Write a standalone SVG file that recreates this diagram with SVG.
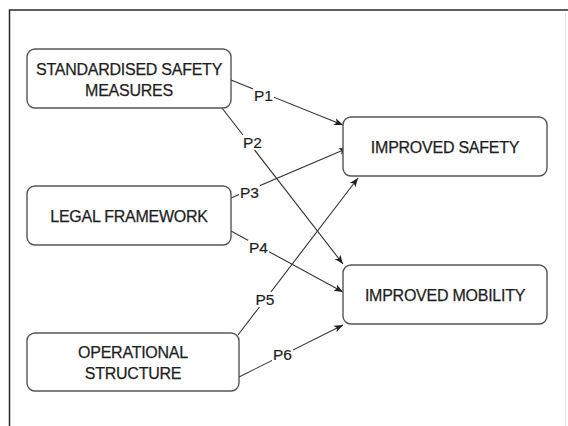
<svg xmlns="http://www.w3.org/2000/svg" width="568" height="426" viewBox="0 0 568 426">
  <style>
    .frame { stroke: #2a2a2a; stroke-width: 1.5; fill: none; }
    .node rect { fill: #ffffff; stroke: #555555; stroke-width: 1.4; }
    .node text { font-family: "Liberation Sans", Arial, sans-serif; font-size: 16px; letter-spacing: -0.25px; fill: #1e1e1e; stroke: #1e1e1e; stroke-width: 0.25; text-anchor: middle; }
    .edge { stroke: #333333; stroke-width: 1.1; fill: none; marker-end: url(#arrow); }
    .lbl-bg { fill: #ffffff; }
    .lbl { font-family: "Liberation Sans", Arial, sans-serif; font-size: 15.5px; fill: #1e1e1e; stroke: #1e1e1e; stroke-width: 0.2; text-anchor: middle; }
  </style>
  <defs>
    <marker id="arrow" viewBox="0 0 10 10" refX="10" refY="5" markerWidth="9" markerHeight="9" markerUnits="userSpaceOnUse" orient="auto">
      <path d="M0,1 L10,5 L0,9 L2.5,5 Z" fill="#222222"/>
    </marker>
  </defs>

  <rect width="568" height="426" fill="#ffffff"/>

  <!-- page frame -->
  <path class="frame" d="M9.5,426 V10 H568"/>
  <line x1="565.5" y1="13" x2="565.5" y2="426" stroke="#e4e4e4" stroke-width="1"/>

  <!-- connectors -->
  <g id="connectors">
    <line class="edge" x1="231" y1="80" x2="343" y2="125"/>
    <line class="edge" x1="222" y1="108" x2="343" y2="264"/>
    <line class="edge" x1="231" y1="198" x2="348" y2="148"/>
    <line class="edge" x1="231" y1="231" x2="343" y2="292"/>
    <line class="edge" x1="238" y1="335" x2="358" y2="178"/>
    <line class="edge" x1="239" y1="377" x2="343" y2="325"/>

    <g id="labels">
      <rect class="lbl-bg" x="253" y="87" width="21" height="15"/>
      <text class="lbl" x="263.5" y="100.5">P1</text>
      <rect class="lbl-bg" x="242" y="135" width="21" height="15"/>
      <text class="lbl" x="252.5" y="148">P2</text>
      <rect class="lbl-bg" x="239" y="185" width="21" height="15"/>
      <text class="lbl" x="249.5" y="198">P3</text>
      <rect class="lbl-bg" x="248" y="240" width="21" height="15"/>
      <text class="lbl" x="258.5" y="252.5">P4</text>
      <rect class="lbl-bg" x="255" y="292" width="21" height="15"/>
      <text class="lbl" x="265" y="304.5">P5</text>
      <rect class="lbl-bg" x="272" y="347" width="21" height="15"/>
      <text class="lbl" x="282.5" y="359.5">P6</text>
    </g>
  </g>

  <!-- nodes -->
  <g id="standardised-safety-measures" class="node">
    <rect x="27" y="49" width="204" height="59" rx="8"/>
    <text x="129" y="74.5">STANDARDISED SAFETY</text>
    <text x="129" y="95.5">MEASURES</text>
  </g>
  <g id="legal-framework" class="node">
    <rect x="27" y="186" width="204" height="59" rx="8"/>
    <text x="129" y="221.5">LEGAL FRAMEWORK</text>
  </g>
  <g id="operational-structure" class="node">
    <rect x="27" y="333" width="212" height="58" rx="8"/>
    <text x="133" y="358">OPERATIONAL</text>
    <text x="133" y="379">STRUCTURE</text>
  </g>
  <g id="improved-safety" class="node">
    <rect x="343" y="117" width="204" height="59" rx="8"/>
    <text x="445" y="152.5">IMPROVED SAFETY</text>
  </g>
  <g id="improved-mobility" class="node">
    <rect x="343" y="265" width="204" height="59" rx="8"/>
    <text x="445" y="300.5">IMPROVED MOBILITY</text>
  </g>
</svg>
